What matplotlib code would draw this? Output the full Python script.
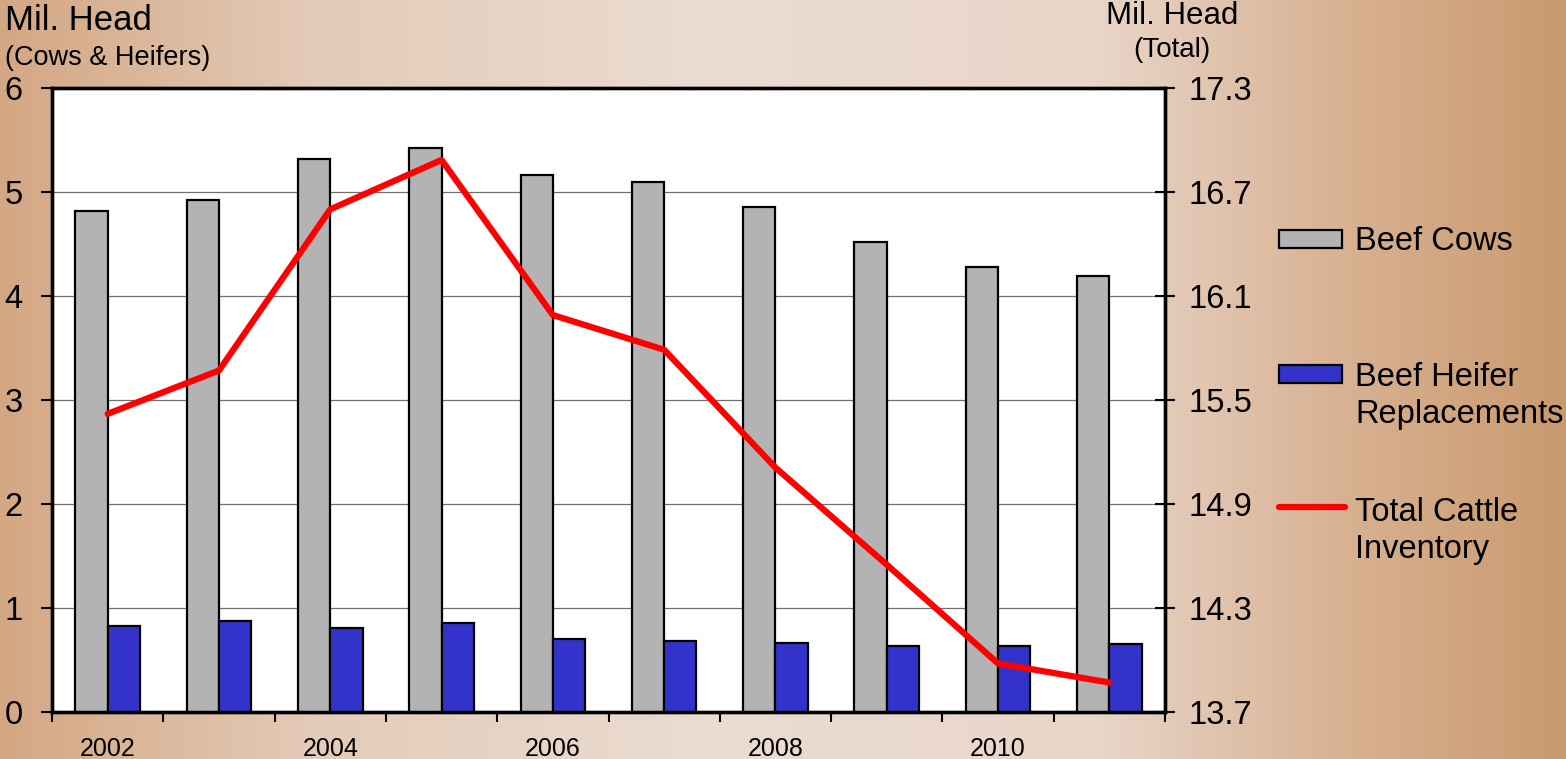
import numpy as np
import matplotlib
matplotlib.use("Agg")
import matplotlib.pyplot as plt
from matplotlib.colors import LinearSegmentedColormap
from matplotlib.patches import Rectangle
from matplotlib.lines import Line2D
from matplotlib.ticker import FormatStrFormatter

plt.rcParams['font.family'] = ['Liberation Sans', 'DejaVu Sans']

# Data (million head)
years = [2002, 2003, 2004, 2005, 2006, 2007, 2008, 2009, 2010, 2011]
beef_cows = [4.82, 4.92, 5.32, 5.42, 5.16, 5.10, 4.86, 4.52, 4.28, 4.19]
heifer_repl = [0.83, 0.875, 0.81, 0.855, 0.70, 0.68, 0.66, 0.635, 0.635, 0.655]
total_cattle = [15.42, 15.67, 16.60, 16.885, 15.99, 15.79, 15.11, 14.55, 13.98, 13.87]
year_labels = ["2002", "", "2004", "", "2006", "", "2008", "", "2010", ""]

W, H = 1566, 759
fig = plt.figure(figsize=(W / 100, H / 100), dpi=100)

# background gradient (tan edges, light middle)
bg = fig.add_axes([0, 0, 1, 1], zorder=-10)
cmap = LinearSegmentedColormap.from_list(
    "tan", [(0.0, "#d4a783"), (0.2, "#e3cbb8"), (0.45, "#ebdcd1"),
            (0.7, "#e8d6c8"), (0.85, "#d9b395"), (1.0, "#c99a6e")])
bg.imshow(np.linspace(0, 1, 512)[None, :], aspect="auto", cmap=cmap,
          extent=[0, 1, 0, 1])
bg.axis("off")

ax = fig.add_axes([52 / W, 1 - 712 / H, (1165 - 52) / W, (712 - 88) / H])
ax.set_facecolor("white")
x = np.arange(len(years))
bw = 0.29
ax.bar(x - bw / 2, beef_cows, bw, color="#b3b3b3", edgecolor="black", linewidth=1.6, zorder=3)
ax.bar(x + bw / 2, heifer_repl, bw, color="#3333cc", edgecolor="black", linewidth=1.6, zorder=3)

ax.set_xlim(-0.5, len(years) - 0.5)
ax.set_ylim(0, 6)
ax.set_yticks(range(7))
ax.yaxis.grid(True, color="#707070", linewidth=0.9, zorder=0)
ax.set_axisbelow(True)
ax.tick_params(axis="y", direction="out", length=8, width=1.5, pad=13, labelsize=23.5)

ax.set_xticks(x)
ax.set_xticklabels(year_labels)
ax.set_xticks(np.arange(-0.5, len(years)), minor=True)
ax.tick_params(axis="x", which="major", length=0, pad=18, labelsize=18)
ax.tick_params(axis="x", which="minor", direction="out", length=7, width=1.5)
for s in ax.spines.values():
    s.set_linewidth(2.4)

ax2 = ax.twinx()
ax2.plot(x, total_cattle, color="#ff0000", linewidth=4.5, solid_capstyle="round", zorder=5)
ax2.set_ylim(13.7, 17.3)
ax2.set_yticks(np.arange(13.7, 17.31, 0.6))
ax2.yaxis.set_major_formatter(FormatStrFormatter("%.1f"))
ax2.tick_params(axis="y", direction="inout", length=14, width=1.5, pad=10, labelsize=23.5)
for s in ax2.spines.values():
    s.set_linewidth(2.4)

# axis titles
fig.text(5 / W, 1 - 30 / H, "Mil. Head", fontsize=25, va="baseline", ha="left")
fig.text(5 / W, 1 - 65 / H, "(Cows & Heifers)", fontsize=19.5, va="baseline", ha="left")
fig.text(1172 / W, 1 - 24 / H, "Mil. Head", fontsize=22.5, va="baseline", ha="center")
fig.text(1172 / W, 1 - 57 / H, "(Total)", fontsize=20, va="baseline", ha="center")

# legend drawn by hand to match the layout
fig.patches.append(Rectangle((1279 / W, 1 - 248 / H), 63 / W, 18 / H, transform=fig.transFigure,
                             facecolor="#b3b3b3", edgecolor="black", linewidth=1.6))
fig.patches.append(Rectangle((1279 / W, 1 - 383 / H), 63 / W, 18 / H, transform=fig.transFigure,
                             facecolor="#3333cc", edgecolor="black", linewidth=1.6))
fig.lines.append(Line2D([1279 / W, 1345 / W], [1 - 507 / H, 1 - 507 / H], transform=fig.transFigure,
                        color="#ff0000", linewidth=4.5, solid_capstyle="round"))
fig.text(1355 / W, 1 - 250 / H, "Beef Cows", fontsize=23.5, va="baseline")
fig.text(1355 / W, 1 - 386 / H, "Beef Heifer", fontsize=23.5, va="baseline")
fig.text(1355 / W, 1 - 423 / H, "Replacements", fontsize=23.5, va="baseline")
fig.text(1355 / W, 1 - 521 / H, "Total Cattle", fontsize=23.5, va="baseline")
fig.text(1355 / W, 1 - 558 / H, "Inventory", fontsize=23.5, va="baseline")

fig.savefig("out.png", dpi=100)
